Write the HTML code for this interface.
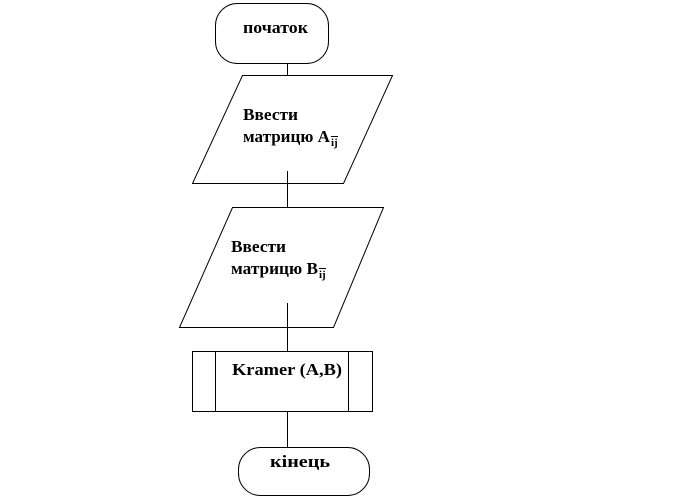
<!DOCTYPE html>
<html><head><meta charset="utf-8"><style>
html,body{margin:0;padding:0;background:#fff;}
svg{display:block;}
</style></head><body>
<svg width="684" height="498" viewBox="0 0 684 498" xmlns="http://www.w3.org/2000/svg">
<g fill="none" stroke="#000" stroke-width="1">
<rect x="215.5" y="3.5" width="113" height="60" rx="22" ry="22"/>
<line x1="287.5" y1="63" x2="287.5" y2="75"/>
<polygon points="242.5,75.5 392.5,75.5 343.5,183.5 192.5,183.5"/>
<line x1="287.5" y1="171" x2="287.5" y2="207"/>
<polygon points="232.5,207.5 383.5,207.5 333.5,327.5 179.5,327.5"/>
<line x1="287.5" y1="303" x2="287.5" y2="352"/>
<rect x="192.5" y="351.5" width="180" height="60"/>
<line x1="215.5" y1="352" x2="215.5" y2="411"/>
<line x1="348.5" y1="352" x2="348.5" y2="411"/>
<line x1="287.5" y1="412" x2="287.5" y2="447"/>
<rect x="238.5" y="447.5" width="131" height="48" rx="22" ry="22"/>
</g>
<g font-family="'Liberation Serif', 'DejaVu Serif', serif" font-weight="bold" font-size="17" fill="#000">
<text x="243" y="33" textLength="65" lengthAdjust="spacingAndGlyphs">початок</text>
<text x="243" y="120" textLength="55" lengthAdjust="spacingAndGlyphs">Ввести</text>
<text x="243" y="142" textLength="87" lengthAdjust="spacingAndGlyphs">матрицю A</text>
<text x="331" y="146" font-size="11">ij</text>
<text x="231" y="252" textLength="55" lengthAdjust="spacingAndGlyphs">Ввести</text>
<text x="231" y="274" textLength="87" lengthAdjust="spacingAndGlyphs">матрицю B</text>
<text x="319" y="278" font-size="11">ij</text>
<text x="232" y="375" textLength="110" lengthAdjust="spacingAndGlyphs">Kramer (A,B)</text>
<text x="270" y="467" textLength="60" lengthAdjust="spacingAndGlyphs">кінець</text>
</g>
<line x1="331" y1="136.5" x2="338" y2="136.5" stroke="#000"/>
<line x1="319" y1="268.5" x2="326" y2="268.5" stroke="#000"/>
</svg>
</body></html>
